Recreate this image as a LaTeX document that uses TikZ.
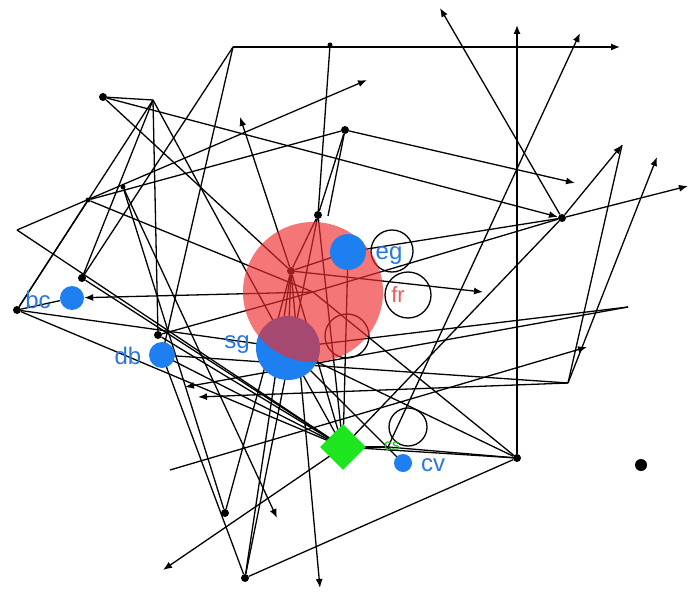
\documentclass[tikz,border=0pt]{standalone}
\usepackage{fontspec}
\setmainfont{Liberation Sans}
\usetikzlibrary{arrows.meta,shapes.geometric}
\definecolor{nblue}{RGB}{30,128,240}
\definecolor{lblue}{RGB}{40,120,225}
\definecolor{nred}{RGB}{240,45,45}
\definecolor{lred}{RGB}{240,90,90}
\definecolor{ngreen}{RGB}{30,230,30}
\pgfdeclarelayer{bg}
\pgfsetlayers{bg,main}
\tikzset{
  e/.style={line width=1.3pt, black},
  a/.style={e, -{Latex[length=9pt,width=7pt]}},
  dotv/.style={circle, fill=black, inner sep=0pt, minimum size=8pt},
  sdot/.style={circle, fill=black, inner sep=0pt, minimum size=5pt},
  bnode/.style={circle, fill=nblue, inner sep=0pt},
  lbl/.style={font=\fontsize{24}{26}\selectfont, text=lblue, inner sep=0pt}
}
\begin{document}
\begin{tikzpicture}[x=1pt,y=-1pt]
\useasboundingbox (0,0) rectangle (690,596);
% vertices
\coordinate (A) at (233,47);
\node[sdot] (B) at (330,45) {};
\coordinate (C) at (620,47);
\node[dotv] (D) at (103,97) {};
\coordinate (E) at (153,100);
\node[dotv] (F) at (345,130) {};
\coordinate (G) at (575,183);
\node[sdot] (H) at (88,200) {};
\coordinate (I) at (17,230);
\node[sdot] (J) at (123,187) {};
\node[dotv] (K) at (17,310) {};
\node[dotv] (HH) at (82,278) {};
\node[dotv] (d2) at (158,335) {};
\node[dotv] (L) at (562,218) {};
\coordinate (M) at (622,145);
\coordinate (N) at (657,157);
\coordinate (O) at (688,186);
\coordinate (P) at (440,8);
\coordinate (Q) at (517,25);
\coordinate (R) at (580,33);
\coordinate (S) at (367,80);
\coordinate (T) at (240,117);
\coordinate (U) at (628,307);
\coordinate (V) at (568,383);
\coordinate (W) at (587,347);
\node[dotv] (X) at (291,271) {};
\node[dotv] (Y) at (318,215) {};
\coordinate (Z) at (483,292);
\node[dotv] (AA) at (517,458) {};
\node[dotv] (BB) at (245,578) {};
\node[dotv] (CC) at (225,513) {};
\coordinate (DD) at (163,570);
\coordinate (EE) at (170,470);
\coordinate (FF) at (277,518);
\coordinate (GG) at (320,588);
\coordinate (gl) at (388,447);
\coordinate (d185) at (185,387);
\coordinate (d198) at (198,397);
\node[circle, fill=black, inner sep=0pt, minimum size=12pt] (iso) at (641,465) {};
% main nodes
\node[bnode, minimum size=64pt] (sg) at (288,348) {};
\node[circle, fill=nred, fill opacity=0.65, minimum size=140pt, inner sep=0pt] (fr) at (313,292) {};
\node[bnode, minimum size=36pt] (eg) at (348,252) {};
\node[bnode, minimum size=24pt] (bc) at (72,298) {};
\node[bnode, minimum size=26pt] (db) at (162,355) {};
\node[bnode, minimum size=18pt] (cv) at (403,463) {};
\node[diamond, fill=ngreen, minimum size=46pt, inner sep=0pt] (dm) at (343,447) {};
% labels
\node[lbl] (leg) at (389,256) {eg};
\node[lbl, text=lred, font=\fontsize{22}{24}\selectfont] (lfr) at (398,295) {fr};
\node[lbl] (lsg) at (237,345) {sg};
\node[lbl] (ldb) at (128,356) {db};
\node[lbl] (lbc) at (38,300) {bc};
\node[lbl] (lcv) at (433,465) {cv};
\node[lbl, text=ngreen!80!black, font=\fontsize{16}{18}\selectfont] (ldm) at (392,446) {cs};
% edges
\begin{pgfonlayer}{bg}
\fill[white] (0,0) rectangle (690,596);
\draw[a] (A) -- (C);
\draw[e] (A) -- (HH);
\draw[e] (A) -- (db.center);
\draw[e] (B) -- (Y);
\draw[e] (D) -- (E);
\draw[e] (D) -- (X);
\draw[a] (D) -- (L);
\draw[e] (E) -- (K);
\draw[e] (E) -- (HH);
\draw[e] (E) -- (d2);
\draw[e] (E) -- (sg.center);
\draw[a] (J) -- (FF);
\draw[a] (F) -- (G);
\draw[e] (H) -- (F);
\draw[a] (I) -- (S);
\draw[e] (K) -- (H);
\draw[e] (K) -- (bc);
\draw[e] (K) -- (dm.center);
\draw[e] (K) -- (sg.center);
\draw[e] (I) -- (dm.center);
\draw[e] (H) -- (fr.center);
\draw[a] (X) -- (T);
\draw[a] (X) -- (GG);
\draw[a] (X) -- (Z);
\draw[e] (eg.center) -- (L);
\draw[e] (fr.center) -- (L);
\draw[a] (L) -- (P);
\draw[a] (AA) -- (Q);
\draw[a] (gl) -- (R);
\draw[a] (L) -- (M);
\draw[a] (L) -- (O);
\draw[e] (M) -- (V);
\draw[a] (V) -- (N);
\draw[e] (L) -- (dm.center);
\draw[e] (U) -- (sg.center);
\draw[a] (U) -- (d185);
\draw[e] (V) -- (db.center);
\draw[a] (V) -- (d198);
\draw[a] (EE) -- (W);
\draw[e] (fr.center) -- (AA);
\draw[e] (sg.center) -- (AA);
\draw[e] (dm.center) -- (AA);
\draw[e] (AA) -- (BB);
\draw[e] (db.center) -- (BB);
\draw[e] (BB) -- (Y);
\draw[e] (BB) -- (X);
\draw[e] (X) -- (CC);
\draw[a] (dm.center) -- (DD);
\draw[a] (fr.center) -- (bc);
\draw[e] (X) -- (eg.center);
\draw[e] (X) -- (sg.center);
\draw[e] (X) -- (Y);
\draw[e] (F) -- (Y);
\draw[e] (F) -- (328,216);
\draw[e] (db.center) -- (dm.center);
\draw[e] (d2) -- (dm.center);
\draw[e] (sg.center) -- (dm.center);
\draw[e] (eg.center) -- (dm.center);
\draw[e] (X) -- (dm.center);
\draw[e] (J) -- (CC);
\draw[e] (HH) -- (dm.center);
\draw[e] (d2) -- (fr.center);
\draw[e] (sg.center) -- (cv.center);
\draw[e] (Y) -- (dm.center);
\draw[e] (dm.center) -- (gl);
\draw[e] (gl) -- (AA);
% loops
\draw[e] (392,251) circle (21pt);
\draw[e] (408,295) circle (23pt);
\draw[e] (347,336) circle (22pt);
\draw[e] (408,427) circle (19pt);
\end{pgfonlayer}
\end{tikzpicture}
\end{document}
